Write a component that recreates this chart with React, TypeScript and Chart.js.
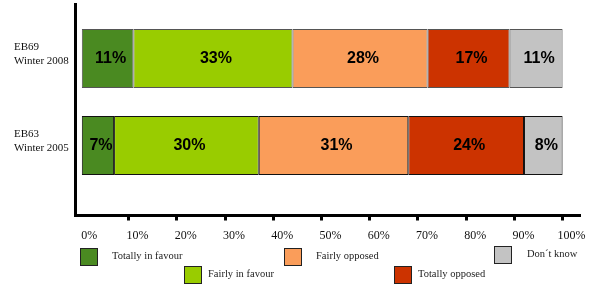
import { useEffect, useRef } from 'react';
import { Chart, registerables } from 'chart.js';

Chart.register(...registerables);

const categories: string[][] = [
  ['EB69', 'Winter 2008'],
  ['EB63', 'Winter 2005'],
];
const seriesNames = ['Totally in favour', 'Fairly in favour', 'Fairly opposed', 'Totally opposed', 'Don\u00b4t know'];
const totallyInFavour = [11, 7];
const fairlyInFavour = [33, 30];
const fairlyOpposed = [28, 31];
const totallyOpposed = [17, 24];
const dontKnow = [11, 8];
const xTickValues = [0, 10, 20, 30, 40, 50, 60, 70, 80, 90, 100];

const seriesValues = [totallyInFavour, fairlyInFavour, fairlyOpposed, totallyOpposed, dontKnow];
const seriesColors = ['#4a8a21', '#99cc00', '#fa9d5a', '#cc3300', '#c3c3c3'];

// legend layout (box left/top, text left)
const legendLayout = [
  { bx: 80, by: 248, tx: 112 },
  { bx: 184, by: 266, tx: 208 },
  { bx: 284, by: 248, tx: 316 },
  { bx: 394, by: 266, tx: 418 },
  { bx: 494, by: 246, tx: 527 },
];

const dataLabelPlugin = {
  id: 'dataLabels',
  afterDatasetsDraw(chart: any) {
    const ctx = chart.ctx;
    ctx.save();
    ctx.font = 'bold 16px "Liberation Sans", Arial, sans-serif';
    ctx.fillStyle = '#000';
    ctx.textAlign = 'center';
    ctx.textBaseline = 'middle';
    chart.data.datasets.forEach((ds: any, di: number) => {
      const meta = chart.getDatasetMeta(di);
      meta.data.forEach((el: any, i: number) => {
        const v = ds.data[i].x;
        const cx = (el.x + el.base) / 2 + 3;
        ctx.fillText(v + '%', cx, el.y);
      });
    });
    ctx.restore();
  },
};

const legendPlugin = {
  id: 'customLegend',
  afterDraw(chart: any) {
    const ctx = chart.ctx;
    ctx.save();
    chart.data.datasets.forEach((ds: any, i: number) => {
      const l = legendLayout[i];
      ctx.fillStyle = ds.backgroundColor;
      ctx.fillRect(l.bx, l.by, 18, 18);
      ctx.strokeStyle = '#222';
      ctx.lineWidth = 1;
      ctx.strokeRect(l.bx + 0.5, l.by + 0.5, 17, 17);
      ctx.fillStyle = '#222';
      ctx.font = '10.5px "Liberation Serif", "Times New Roman", serif';
      ctx.textAlign = 'left';
      ctx.textBaseline = 'middle';
      ctx.fillText(ds.label, l.tx, l.by + 8.5);
    });
    ctx.restore();
  },
};

export default function App() {
  const ref = useRef<HTMLCanvasElement | null>(null);
  useEffect(() => {
    if (!ref.current) return;
    const chart = new Chart(ref.current, {
      type: 'bar',
      data: {
        datasets: seriesValues.map((vals, si) => ({
          label: seriesNames[si],
          data: vals.map((v, i) => ({ x: v, y: i })),
          backgroundColor: seriesColors[si],
          borderColor: ['#555555', '#111111'],
          borderWidth: 1,
          borderSkipped: false,
          barPercentage: 0.678,
          categoryPercentage: 1,
        })),
      },
      plugins: [dataLabelPlugin, legendPlugin],
      options: {
        indexAxis: 'y',
        animation: false,
        responsive: false,
        layout: { padding: { left: 14, top: 4.5, right: 10, bottom: 0 } },
        plugins: { legend: { display: false }, tooltip: { enabled: false } },
        scales: {
          x: {
            type: 'linear',
            min: -1.0,
            max: 103.4,
            stacked: true,
            afterBuildTicks: (s: any) => {
              s.ticks = xTickValues.map((v) => ({ value: v }));
            },
            afterFit: (s: any) => {
              s.height = 73.5;
              s.paddingLeft = 0;
              s.paddingRight = 0;
            },
            grid: {
              drawOnChartArea: false,
              drawTicks: true,
              tickLength: 5,
              lineWidth: 3,
              color: '#000',
              tickColor: (c: any) => (c.tick && c.tick.value === 0 ? 'rgba(0,0,0,0)' : '#000'),
            },
            border: { display: true, color: '#000', width: 3 },
            ticks: {
              autoSkip: false,
              maxRotation: 0,
              padding: 8,
              labelOffset: 9,
              color: '#111',
              font: { family: '"Liberation Serif", "Times New Roman", serif', size: 12 },
              callback: (v: any) => v + '%',
            },
          },
          y: {
            type: 'linear',
            reverse: true,
            offset: false,
            min: -0.6207,
            max: 1.8046,
            stacked: true,
            afterBuildTicks: (s: any) => {
              s.ticks = categories.map((_, i) => ({ value: i }));
            },
            afterFit: (s: any) => {
              s.width = 61.5;
              s.paddingTop = 0;
              s.paddingBottom = 0;
            },
            grid: { offset: false, drawOnChartArea: false, drawTicks: false },
            border: { display: true, color: '#000', width: 3 },
            ticks: {
              crossAlign: 'far',
              labelOffset: -4,
              color: '#111',
              font: { family: '"Liberation Serif", "Times New Roman", serif', size: 11, lineHeight: 14 / 11 },
              callback: (_v: any, i: number) => categories[i],
            },
          },
        },
      } as any,
    });
    return () => chart.destroy();
  }, []);
  return (
    <div style={{ position: 'fixed', left: 0, top: 0, width: 589, height: 289, background: '#fff' }}>
      <canvas ref={ref} width={589} height={289} style={{ width: 589, height: 289, display: 'block' }} />
    </div>
  );
}
